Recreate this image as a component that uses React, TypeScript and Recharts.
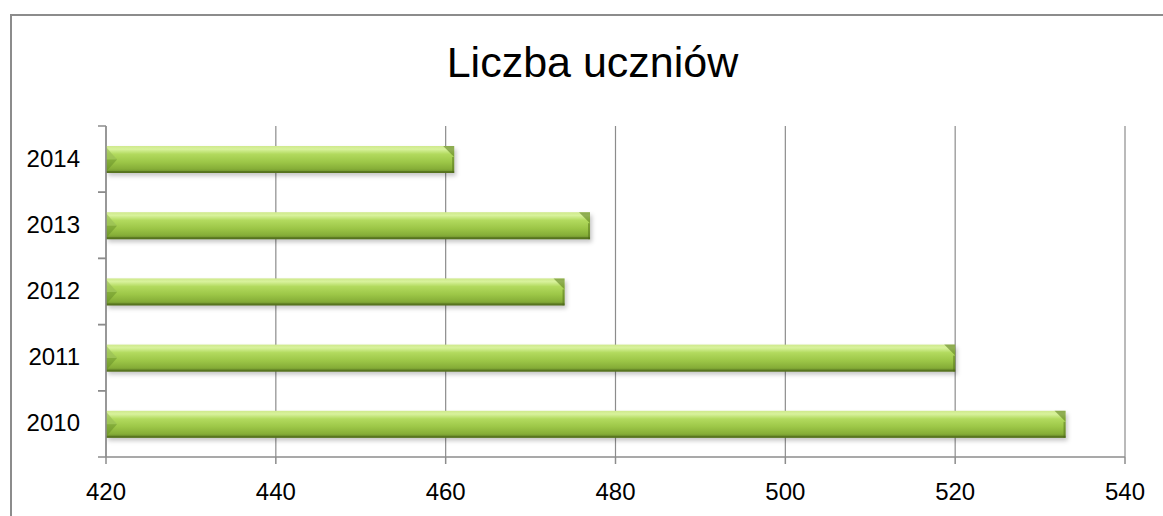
import React from 'react';
import { BarChart, Bar, XAxis, YAxis, CartesianGrid } from 'recharts';

const years = ['2010', '2011', '2012', '2013', '2014'];
const students = [533, 520, 474, 477, 461];
const xTicks = [420, 440, 460, 480, 500, 520, 540];
const title = 'Liczba uczniów';

const data = years.map((y, i) => ({ year: y, value: students[i] }));

const W = 1163;
const H = 516;
const MARGIN = { top: 126, right: 38, left: 0, bottom: 29 };
const X_AXIS_H = 30;
const Y_AXIS_W = 106;
const PLOT_BOTTOM = H - MARGIN.bottom - X_AXIS_H;
const PLOT_H = PLOT_BOTTOM - MARGIN.top;
const BAND = PLOT_H / years.length;
const FONT = '"Liberation Sans", Arial, sans-serif';
const GRAY = '#8c8c8c';

const BarShape = (props: any) => {
  const { x, y, width, height } = props;
  if (width <= 0) return null;
  const b = Math.min(11, height / 2);
  return (
    <g>
      <rect x={x + 2} y={y + 3} width={width} height={height} fill="rgba(0,0,0,0.22)" filter="url(#barShadow)" />
      <rect x={x} y={y} width={width} height={height} fill="url(#barGrad)" />
      <polygon points={`${x},${y + 1} ${x + b},${y + height / 2} ${x},${y + height - 1}`} fill="rgba(95,135,35,0.45)" />
      <polygon points={`${x},${y} ${x + b},${y + height / 2} ${x},${y + height / 2}`} fill="rgba(200,235,130,0.35)" />
      <polygon points={`${x + width - b},${y} ${x + width},${y} ${x + width},${y + b}`} fill="rgba(85,120,25,0.55)" />
      <rect x={x + width - 2} y={y + b} width={2} height={height - b} fill="rgba(80,110,25,0.5)" />
      <rect x={x} y={y + height - 2} width={width} height={2} fill="rgba(70,95,20,0.55)" />
    </g>
  );
};

const YTick = (props: any) => {
  const { x, y, payload } = props;
  const axisX = Y_AXIS_W;
  return (
    <g>
      <line x1={axisX - 8} x2={axisX} y1={y - BAND / 2} y2={y - BAND / 2} stroke={GRAY} strokeWidth={1.5} />
      <line x1={axisX - 8} x2={axisX} y1={y + BAND / 2} y2={y + BAND / 2} stroke={GRAY} strokeWidth={1.5} />
      <text x={axisX - 26} y={y - 1} textAnchor="end" dominantBaseline="central" fontFamily={FONT} fontSize={24} fill="#000">
        {payload.value}
      </text>
    </g>
  );
};

const XTick = (props: any) => {
  const { x, payload } = props;
  return (
    <text x={x} y={PLOT_BOTTOM + 43} textAnchor="middle" fontFamily={FONT} fontSize={24} fill="#000">
      {payload.value}
    </text>
  );
};

export default function App() {
  return (
    <div style={{ position: 'absolute', left: 0, top: 0, width: W, height: H, overflow: 'hidden', background: '#fff' }}>
      <div
        style={{
          position: 'absolute',
          left: 10,
          top: 14,
          width: 1300,
          height: 700,
          border: `2px solid ${GRAY}`,
          boxSizing: 'border-box',
        }}
      />
      <div
        style={{
          position: 'absolute',
          left: 0,
          top: 37,
          width: W + 22,
          textAlign: 'center',
          fontFamily: FONT,
          fontSize: 43,
          lineHeight: '50px',
          color: '#000',
        }}
      >
        {title}
      </div>
      <div style={{ position: 'absolute', left: 0, top: 0 }}>
        <BarChart width={W} height={H} data={data} layout="vertical" margin={MARGIN}>
          <defs>
            <linearGradient id="barGrad" x1="0" y1="0" x2="0" y2="1">
              <stop offset="0%" stopColor="#cfe98c" />
              <stop offset="12%" stopColor="#d8f29c" />
              <stop offset="30%" stopColor="#b2da5e" />
              <stop offset="60%" stopColor="#9cc647" />
              <stop offset="85%" stopColor="#86ae38" />
              <stop offset="100%" stopColor="#66862a" />
            </linearGradient>
            <filter id="barShadow" x="-5%" y="-50%" width="110%" height="200%">
              <feGaussianBlur stdDeviation="2" />
            </filter>
          </defs>
          <CartesianGrid horizontal={false} vertical={true} stroke={GRAY} strokeWidth={1.2} />
          <XAxis
            type="number"
            domain={[420, 540]}
            ticks={xTicks}
            allowDataOverflow
            height={X_AXIS_H}
            axisLine={{ stroke: GRAY, strokeWidth: 1.5 }}
            tickLine={{ stroke: GRAY, strokeWidth: 1.5 }}
            tickSize={7}
            tick={<XTick />}
            interval={0}
          />
          <YAxis
            type="category"
            dataKey="year"
            reversed
            width={Y_AXIS_W}
            axisLine={{ stroke: GRAY, strokeWidth: 1.5 }}
            tickLine={false}
            tick={<YTick />}
            interval={0}
          />
          <Bar dataKey="value" barSize={27} shape={<BarShape />} isAnimationActive={false} />
        </BarChart>
      </div>
    </div>
  );
}
